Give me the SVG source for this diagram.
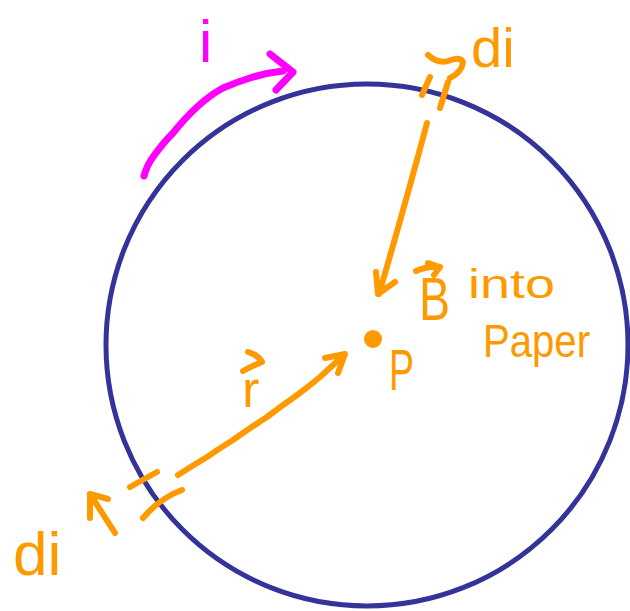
<svg xmlns="http://www.w3.org/2000/svg" width="630" height="611" viewBox="0 0 630 611">
<style>
.o{fill:none;stroke:#ff9900;stroke-width:6;stroke-linecap:round;stroke-linejoin:round}
.m{fill:none;stroke:#ff00ff;stroke-width:7;stroke-linecap:round;stroke-linejoin:round}
.to{fill:#ff9900;font-family:"Liberation Sans",Arial,sans-serif}
.tm{fill:#ff00ff;font-family:"Liberation Sans",Arial,sans-serif}
</style>
<rect width="630" height="611" fill="#ffffff"/>
<g id="loop">
<circle cx="367" cy="345" r="261" fill="none" stroke="#333399" stroke-width="5"/>
</g>
<g id="current">
<path class="m" d="M144,176 Q147,165 153,157 Q163,143 173,133 Q185,118 197,107 Q210,95 223,88 Q237,82 250,78 Q265,73 283,71"/>
<path class="m" d="M270,54 L293,72 L276,90"/>
<text class="tm" x="199" y="62" font-size="60">i</text>
</g>
<g id="element-top">
<path class="o" d="M430,77 L422,95 M448,82 L440,108"/>
<path class="o" d="M428,55 Q438,64 448,61 Q460,56 463,62 Q462,72 450,78"/>
<text class="to" x="471" y="67" font-size="56">di</text>
</g>
<g id="field">
<path class="o" d="M427,123 Q405,205 379,294"/>
<path class="o" d="M376,272 L378,294 L395,282"/>
<path class="o" d="M416,271 Q428,266 440,267 M428,263 L440,267 L434,275"/>
<text class="to" x="419" y="320" font-size="62" textLength="31" lengthAdjust="spacingAndGlyphs">B</text>
<text class="to" x="468" y="298" font-size="40" textLength="87" lengthAdjust="spacingAndGlyphs">into</text>
<text class="to" x="483" y="357" font-size="46" textLength="107" lengthAdjust="spacingAndGlyphs">Paper</text>
</g>
<g id="point-P">
<circle cx="373" cy="339" r="9" fill="#ff9900"/>
<text class="to" x="389" y="390" font-size="58" textLength="25" lengthAdjust="spacingAndGlyphs">P</text>
</g>
<g id="element-bottom">
<path class="o" d="M130,487 L157,472 M143,518 Q160,498 182,490"/>
<path class="o" d="M115,533 L90,494 M90,518 L90,494 L108,499"/>
<text class="to" x="13" y="575" font-size="62">di</text>
</g>
<g id="connectors">
<path class="o" d="M178,475 Q192,466 207,457 Q220,448 233,440 Q250,428 267,417 Q280,407 293,398 Q307,388 320,377 Q332,366 344,355"/>
<path class="o" d="M325,358 L345,354 L338,373"/>
<path class="o" d="M248,352 Q258,355 262,362 Q252,366 243,371"/>
<text class="to" x="242" y="407" font-size="52">r</text>
</g>
</svg>
